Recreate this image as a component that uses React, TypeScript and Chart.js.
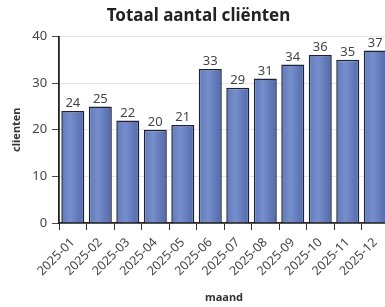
import React, { useEffect, useRef } from "react";
import { Chart, registerables } from "chart.js";

Chart.register(...registerables);

const months = ["2025-01", "2025-02", "2025-03", "2025-04", "2025-05", "2025-06", "2025-07", "2025-08", "2025-09", "2025-10", "2025-11", "2025-12"];
const clients = [24, 25, 22, 20, 21, 33, 29, 31, 34, 36, 35, 37];
const yTicks = [0, 10, 20, 30, 40];

const FONT = "'Noto Sans', 'Open Sans', sans-serif";

const valueLabels = {
  id: "valueLabels",
  afterDatasetsDraw(chart: any) {
    const ctx = chart.ctx;
    const meta = chart.getDatasetMeta(0);
    ctx.save();
    ctx.font = `13px ${FONT}`;
    ctx.fillStyle = "#444";
    ctx.textAlign = "center";
    ctx.textBaseline = "bottom";
    meta.data.forEach((bar: any, i: number) => {
      ctx.fillText(String(clients[i]), bar.x, bar.y - 1);
    });
    ctx.restore();
  },
};

export default function App() {
  const ref = useRef<HTMLCanvasElement>(null);
  useEffect(() => {
    if (!ref.current) return;
    const chart = new Chart(ref.current, {
      type: "bar",
      data: {
        labels: months,
        datasets: [
          {
            data: clients,
            backgroundColor: (c: any) => {
              const ch = c.chart;
              const xs = ch.scales && ch.scales.x;
              if (!xs || c.dataIndex === undefined) return "#6580c0";
              const cx = xs.getPixelForValue(c.dataIndex);
              if (!isFinite(cx)) return "#6580c0";
              const g = ch.ctx.createLinearGradient(cx - 12, 0, cx + 12, 0);
              g.addColorStop(0, "#5f79b9");
              g.addColorStop(0.4, "#768ecb");
              g.addColorStop(1, "#5068aa");
              return g;
            },
            borderColor: "#1c2233",
            borderWidth: 1.5,
            categoryPercentage: 0.9,
            barPercentage: 0.93,
          },
        ],
      },
      options: {
        responsive: false,
        animation: false,
        devicePixelRatio: 1,
        layout: { padding: { right: 5, top: 0, bottom: 1 } },
        plugins: {
          legend: { display: false },
          tooltip: { enabled: false },
          title: {
            display: true,
            text: "Totaal aantal cliënten",
            color: "#222",
            font: { family: FONT, size: 17, weight: "bold" },
            padding: { top: 6, bottom: 10 },
          },
        },
        scales: {
          x: {
            grid: { drawOnChartArea: false, tickLength: 7, tickColor: "#333" },
            border: { color: "#222", width: 1.8 },
            ticks: {
              color: "#444",
              font: { family: FONT, size: 12.5 },
              maxRotation: 45,
              minRotation: 45,
              padding: 5,
            },
            title: {
              display: true,
              text: "maand",
              color: "#333",
              font: { family: FONT, size: 11, weight: "bold" },
              padding: { top: 7, bottom: 2 },
            },
          },
          y: {
            min: 0,
            max: 40,
            afterBuildTicks: (axis: any) => {
              axis.ticks = yTicks.map((v) => ({ value: v }));
            },
            grid: { color: "#e6e6e6", tickLength: 7, tickColor: "#444" },
            border: { color: "#222", width: 1.8 },
            ticks: {
              color: "#444",
              font: { family: FONT, size: 13 },
              padding: 5,
            },
            title: {
              display: true,
              text: "clienten",
              color: "#333",
              font: { family: FONT, size: 11, weight: "bold" },
              padding: { top: 2, bottom: 4 },
            },
          },
        },
      },
      plugins: [valueLabels],
    });
    return () => chart.destroy();
  }, []);
  return (
    <div style={{ position: "absolute", left: 8, top: 0, width: 377, height: 307, overflow: "hidden" }}>
      <canvas ref={ref} width={386} height={307} />
    </div>
  );
}
